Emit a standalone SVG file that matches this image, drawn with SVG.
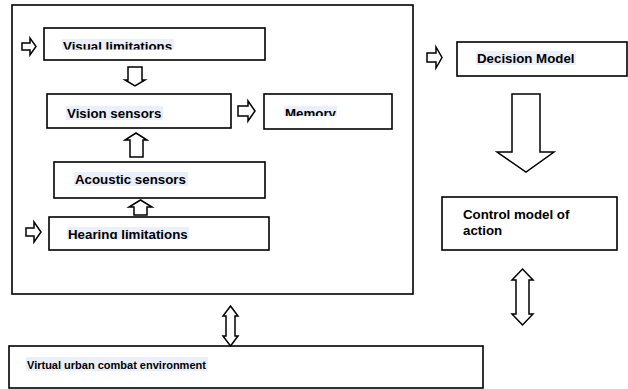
<svg xmlns="http://www.w3.org/2000/svg" width="628" height="389" viewBox="0 0 628 389">
<style>
.box{fill:#fff;stroke:#000;stroke-width:1.6}
.arr{fill:#fff;stroke:#000;stroke-width:1.5;stroke-linejoin:miter}
.t{font-family:"Liberation Sans",Arial,sans-serif;font-weight:bold;font-size:13.3px;fill:#000}
.ts{font-family:"Liberation Sans",Arial,sans-serif;font-weight:bold;font-size:11px;fill:#000}
.hl{fill:#eaeff9}
</style>
<defs>
<clipPath id="cVis"><rect x="40" y="30" width="200" height="19.5"/></clipPath>
<clipPath id="cMem"><rect x="266" y="96" width="120" height="20"/></clipPath>
<clipPath id="cHear"><rect x="50" y="219" width="210" height="20"/></clipPath>
</defs>
<rect id="outer" class="box" x="12" y="5" width="401" height="289"/>
<g id="visual">
<rect class="box" x="44" y="28" width="221" height="32"/>
<g clip-path="url(#cVis)"><rect class="hl" x="62" y="39" width="112" height="14"/><text class="t" x="63" y="51">Visual limitations</text></g>
</g>
<g id="vision">
<rect class="box" x="47" y="94" width="184" height="34"/>
<rect class="hl" x="66" y="106" width="97" height="14"/><text class="t" x="67" y="118">Vision sensors</text>
</g>
<g id="memory">
<rect class="box" x="264" y="94" width="128" height="35"/>
<g clip-path="url(#cMem)"><rect class="hl" x="284" y="106" width="53" height="14"/><text class="t" x="285" y="118">Memory</text></g>
</g>
<g id="acoustic">
<rect class="box" x="54" y="162" width="211" height="36"/>
<rect class="hl" x="74" y="172" width="114" height="14"/><text class="t" x="75" y="184">Acoustic sensors</text>
</g>
<g id="hearing">
<rect class="box" x="49" y="217" width="220" height="33"/>
<g clip-path="url(#cHear)"><rect class="hl" x="67" y="227" width="122" height="14"/><text class="t" x="68" y="238.5">Hearing limitations</text></g>
</g>
<g id="decision">
<rect class="box" x="457" y="42" width="170" height="34"/>
<rect class="hl" x="476" y="51" width="100" height="14"/><text class="t" x="477" y="63">Decision Model</text>
</g>
<g id="control">
<rect class="box" x="442" y="197" width="175" height="53"/>
<text class="t" x="463" y="219">Control model of</text>
<text class="t" x="463" y="235">action</text>
</g>
<g id="virtual">
<rect class="box" x="9" y="346" width="474" height="42"/>
<rect class="hl" x="26" y="357" width="182" height="14"/><text class="ts" x="27" y="369">Virtual urban combat environment</text>
</g>
<g id="connectors">
<polygon class="arr" points="22,43 30,43 30,38 36,46.5 30,55 30,50 22,50"/>
<polygon class="arr" points="238,106 248,106 248,101 255,111 248,121 248,116 238,116"/>
<polygon class="arr" points="26,228 34,228 34,222 41,232 34,242 34,236 26,236"/>
<polygon class="arr" points="427,53 436,53 436,47 442,57.5 436,68 436,62 427,62"/>
<polygon class="arr" points="128,67 142,67 142,80 145,80 135,86 125,80 128,80"/>
<polygon class="arr" points="136,133 147,140 143,140 143,157 130,157 130,140 125,140"/>
<polygon class="arr" points="140.5,200 152,207 147,207 147,215 134,215 134,207 129,207"/>
<polygon class="arr" points="512,94 540,94 540,152 554,152 526,172 497,152 512,152"/>
<polygon class="arr" points="522.5,269 533,280 529,280 529,314 533,314 522.5,325 512,314 516,314 516,280 512,280"/>
<polygon class="arr" points="230.5,306 238,316 235,316 235,336 238,336 230.5,346 223,336 226,336 226,316 223,316"/>
</g>
</svg>
